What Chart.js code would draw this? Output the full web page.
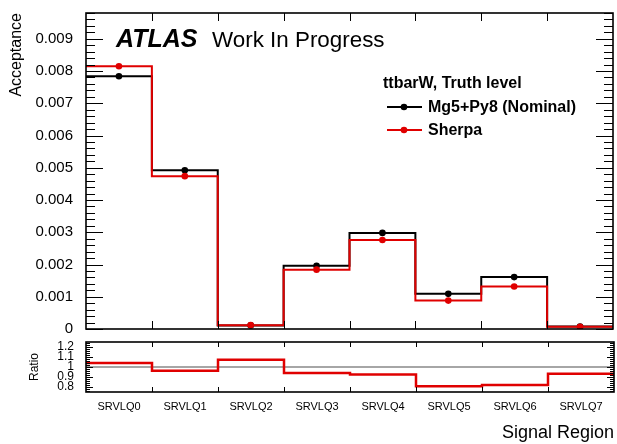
<!DOCTYPE html>
<html>
<head>
<meta charset="utf-8">
<script src="https://cdn.jsdelivr.net/npm/chart.js@4.4.1/dist/chart.umd.min.js"></script>
<style>
  body { margin: 0; background: #fff; }
  #wrap { position: relative; width: 617px; height: 444px; overflow: hidden; }
  canvas { position: absolute; left: 0; }
  #mainCanvas { top: 0; }
  #ratioCanvas { top: 336px; }
</style>
</head>
<body>
<div id="wrap">
  <canvas id="mainCanvas" width="617" height="336"></canvas>
  <canvas id="ratioCanvas" width="617" height="108"></canvas>
</div>
<script>
// signal regions and acceptance per sample
const regions = ['SRVLQ0', 'SRVLQ1', 'SRVLQ2', 'SRVLQ3', 'SRVLQ4', 'SRVLQ5', 'SRVLQ6', 'SRVLQ7'];
const nominal = [0.00784, 0.00492, 0.000112, 0.00196, 0.00298, 0.00109, 0.00161, 0.000075];
const sherpa = [0.00815, 0.00474, 0.00012, 0.00184, 0.00276, 0.00088, 0.00132, 0.00007];
const ratio = sherpa.map((v, i) => v / nominal[i]);
const ratioTicks = [0.8, 0.9, 1, 1.1, 1.2];

const RED = '#e00000';
const FONT = '"Liberation Sans", Arial, Helvetica, sans-serif';

Chart.defaults.font.family = FONT;
Chart.defaults.color = '#000';

// histogram as step line: one point per bin low edge plus the last upper edge
function stepPoints(vals) {
    const pts = vals.map((v, i) => ({ x: i, y: v }));
    pts.push({ x: vals.length, y: vals[vals.length - 1] });
    return pts;
}

function centerPoints(vals) {
    return vals.map((v, i) => ({ x: i + 0.5, y: v }));
}

// keep the plot frame fixed: no extra room for the outer tick labels
function fixY(scale) {
    scale.width = 86;
    scale.paddingTop = 0;
    scale.paddingBottom = 0;
}

// ROOT-like frame with inward ticks on all sides
const rootFrame = {
    id: 'rootFrame',
    afterDatasetsDraw(chart, args, o) {
        const { ctx, chartArea: a, scales } = chart;
        ctx.save();
        ctx.strokeStyle = '#000';
        ctx.lineWidth = 1;
        ctx.beginPath();
        for (let k = 0; ; k++) {
            const v = o.yStart + k * o.yMinor;
            if (v > o.yEnd + 1e-9) break;
            const r = v / o.yMajor;
            const len = Math.abs(r - Math.round(r)) < 1e-6 ? o.majorLen : o.minorLen;
            const py = Math.round(scales.y.getPixelForValue(v)) + 0.5;
            ctx.moveTo(a.left, py); ctx.lineTo(a.left + len, py);
            ctx.moveTo(a.right, py); ctx.lineTo(a.right - len, py);
        }
        for (let i = 1; i < regions.length; i++) {
            const px = Math.round(scales.x.getPixelForValue(i)) + 0.5;
            ctx.moveTo(px, a.bottom); ctx.lineTo(px, a.bottom - o.xLen);
            ctx.moveTo(px, a.top); ctx.lineTo(px, a.top + o.xLen);
        }
        ctx.stroke();
        ctx.lineWidth = 1.6;
        ctx.strokeRect(a.left, a.top, a.right - a.left, a.bottom - a.top);
        ctx.restore();
    }
};

// ATLAS label and legend box
const atlasText = {
    id: 'atlasText',
    afterDraw(chart) {
        const ctx = chart.ctx;
        ctx.save();
        ctx.fillStyle = '#000';
        ctx.textBaseline = 'alphabetic';
        ctx.font = 'italic bold 25px ' + FONT;
        ctx.fillText('ATLAS', 116, 47);
        ctx.font = '22.4px ' + FONT;
        ctx.fillText('Work In Progress', 212, 47);

        ctx.font = 'bold 16px ' + FONT;
        ctx.fillText('ttbarW, Truth level', 383, 88);
        const entries = [['Mg5+Py8 (Nominal)', '#000', 107, 112], ['Sherpa', RED, 130, 135]];
        entries.forEach(([label, color, ly, ty]) => {
            ctx.strokeStyle = color;
            ctx.fillStyle = color;
            ctx.lineWidth = 2;
            ctx.beginPath();
            ctx.moveTo(387, ly); ctx.lineTo(422, ly);
            ctx.stroke();
            ctx.beginPath();
            ctx.arc(404, ly, 3.3, 0, Math.PI * 2);
            ctx.fill();
            ctx.fillStyle = '#000';
            ctx.fillText(label, 428, ty);
        });
        ctx.restore();
    }
};

const mainChart = new Chart(document.getElementById('mainCanvas'), {
    type: 'line',
    data: {
        datasets: [
            { data: centerPoints(sherpa), showLine: false, pointRadius: 3.3, pointBackgroundColor: RED, pointBorderWidth: 0, order: 0 },
            { data: stepPoints(sherpa), stepped: true, borderColor: RED, borderWidth: 2, pointRadius: 0, fill: false, order: 1 },
            { data: centerPoints(nominal), showLine: false, pointRadius: 3.3, pointBackgroundColor: '#000', pointBorderWidth: 0, order: 2 },
            { data: stepPoints(nominal), stepped: true, borderColor: '#000', borderWidth: 2, pointRadius: 0, fill: false, order: 3 }
        ]
    },
    options: {
        responsive: false,
        animation: false,
        devicePixelRatio: 1,
        layout: { padding: { left: 0, right: 3, top: 13, bottom: 7 } },
        plugins: {
            legend: { display: false },
            tooltip: { enabled: false },
            rootFrame: { yStart: 0, yEnd: 0.0098, yMinor: 0.0002, yMajor: 0.001, majorLen: 17, minorLen: 9, xLen: 8 }
        },
        scales: {
            x: { type: 'linear', min: 0, max: 8, display: false },
            y: {
                min: 0,
                max: 0.0098,
                afterFit: fixY,
                grid: { display: false },
                border: { display: false },
                ticks: {
                    stepSize: 0.001,
                    includeBounds: false,
                    autoSkip: false,
                    padding: 5,
                    font: { size: 15 },
                    callback: v => (v === 0 ? '0' : v.toFixed(3))
                },
                title: {
                    display: true,
                    text: 'Acceptance',
                    align: 'end',
                    font: { size: 16 },
                    padding: { top: 7, bottom: 0 }
                }
            }
        }
    },
    plugins: [rootFrame, atlasText]
});

const ratioChart = new Chart(document.getElementById('ratioCanvas'), {
    type: 'line',
    data: {
        datasets: [
            { data: stepPoints(ratio), stepped: true, borderColor: RED, borderWidth: 2.5, pointRadius: 0, fill: false, order: 0 },
            { data: [{ x: 0, y: 1 }, { x: 8, y: 1 }], borderColor: '#888', borderWidth: 1.5, pointRadius: 0, fill: false, order: 1 }
        ]
    },
    options: {
        responsive: false,
        animation: false,
        devicePixelRatio: 1,
        layout: { padding: { left: 0, right: 3, top: 6, bottom: 0 } },
        plugins: {
            legend: { display: false },
            tooltip: { enabled: false },
            rootFrame: { yStart: 0.76, yEnd: 1.24, yMinor: 0.02, yMajor: 0.1, majorLen: 7, minorLen: 4, xLen: 5 }
        },
        scales: {
            x: {
                type: 'linear',
                min: 0,
                max: 8,
                afterFit(scale) {
                    scale.height = 52;
                    scale.paddingLeft = 0;
                    scale.paddingRight = 0;
                },
                afterBuildTicks(scale) { scale.ticks = regions.map((r, i) => ({ value: i + 0.5 })); },
                grid: { display: false },
                border: { display: false },
                ticks: {
                    padding: 0,
                    maxRotation: 0,
                    autoSkip: false,
                    font: { size: 11 },
                    callback: v => regions[Math.floor(v)]
                },
                title: {
                    display: true,
                    text: 'Signal Region',
                    align: 'end',
                    font: { size: 18 },
                    padding: { top: 0, bottom: 0 }
                }
            },
            y: {
                min: 0.75,
                max: 1.25,
                afterFit: fixY,
                afterBuildTicks(scale) { scale.ticks = ratioTicks.map(v => ({ value: v })); },
                grid: { display: false },
                border: { display: false },
                ticks: {
                    autoSkip: false,
                    padding: 4,
                    font: { size: 12 },
                    callback: v => String(Number(v.toFixed(1)))
                },
                title: {
                    display: true,
                    text: 'Ratio',
                    font: { size: 12 },
                    padding: { top: 27, bottom: 0 }
                }
            }
        }
    },
    plugins: [rootFrame]
});
</script>
</body>
</html>
